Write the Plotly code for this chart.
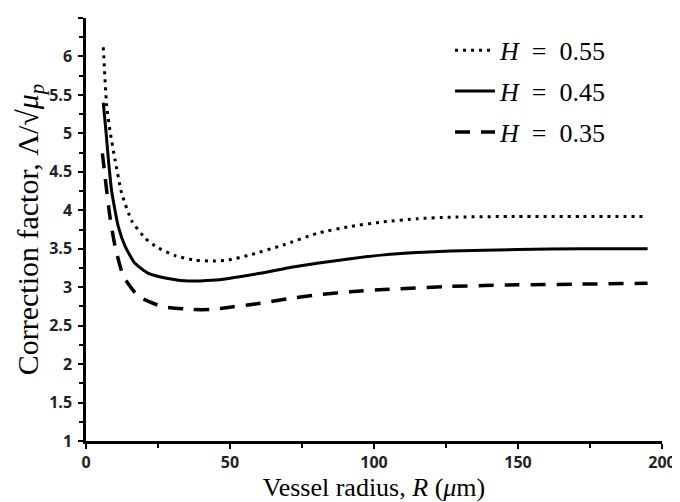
import plotly.graph_objects as go

# Vessel radius R (um) and correction factor
r_055 = [6.0, 7.2, 8.3, 10.1, 12.4, 15.9, 20.5, 24.6, 31, 37.9, 44.3, 49, 57, 68.6, 80.2,
         91.8, 103.4, 115, 126.6, 149.8, 172, 195]
h_055 = [6.12, 5.35, 5.04, 4.65, 4.22, 3.86, 3.64, 3.52, 3.41, 3.35, 3.34, 3.35, 3.42,
         3.55, 3.70, 3.79, 3.85, 3.89, 3.91, 3.92, 3.92, 3.92]

r_045 = [6.0, 7.0, 7.8, 8.9, 11.2, 13.6, 17.0, 21.7, 27.5, 35.6, 43.7, 49, 60.5, 70,
         80.2, 91.8, 103.4, 115, 126.6, 149.8, 172, 195]
h_045 = [5.40, 5.00, 4.65, 4.25, 3.79, 3.53, 3.31, 3.18, 3.12, 3.08, 3.09, 3.11, 3.18,
         3.25, 3.31, 3.37, 3.42, 3.45, 3.47, 3.49, 3.50, 3.50]

r_035 = [5.7, 6.6, 8.3, 10.1, 13, 18.2, 26.3, 36.8, 43.1, 50, 60.5, 70, 80.2, 91.8,
         103.4, 126.6, 149.8, 172, 195]
h_035 = [4.74, 4.44, 3.92, 3.53, 3.14, 2.88, 2.75, 2.71, 2.71, 2.74, 2.79, 2.85, 2.90,
         2.94, 2.97, 3.01, 3.03, 3.04, 3.05]

x_ticks = [0, 50, 100, 150, 200]
y_ticks = [1, 1.5, 2, 2.5, 3, 3.5, 4, 4.5, 5, 5.5, 6, 6.5]

series = [
    ("<i>H</i>\u2002=\u20020.55", r_055, h_055, dict(width=3, dash="3px,5px")),
    ("<i>H</i>\u2002=\u20020.45", r_045, h_045, dict(width=3)),
    ("<i>H</i>\u2002=\u20020.35", r_035, h_035, dict(width=3.5, dash="15px,11px")),
]

fig = go.Figure()
for i, (name, x, y, line) in enumerate(series):
    fig.add_trace(go.Scatter(
        x=x, y=y, mode="lines", name=name,
        line=dict(color="black", shape="spline", smoothing=0.5, **line),
        legendgroup=str(i),
    ))

tick_font = dict(family="Open Sans", size=16, color="#222222")
serif = "Liberation Serif"

# the page body adds an 8px offset, so the figure is 8px smaller on each side
fig.update_layout(
    width=672, height=494,
    margin=dict(l=78, r=18, t=10, b=61, autoexpand=False),
    plot_bgcolor="white",
    paper_bgcolor="white",
    showlegend=True,
    legend=dict(
        x=0.632, y=0.979, xanchor="left", yanchor="top",
        font=dict(family=serif, size=26, color="black"),
        tracegroupgap=4, itemwidth=40,
        bgcolor="rgba(0,0,0,0)",
    ),
)
fig.update_xaxes(
    range=[0, 200], tickvals=x_ticks, ticktext=[f"<b>{v}</b>" for v in x_ticks],
    automargin=False,
    showline=True, linecolor="black", linewidth=2.5,
    ticks="outside", ticklen=5, tickwidth=2, tickcolor="black",
    minor=dict(dtick=25, ticks="outside", ticklen=4, tickwidth=2, tickcolor="black"),
    showgrid=False, zeroline=False, tickfont=tick_font,
    title=dict(text="Vessel radius, <i>R</i> (<i>μ</i>m)",
               font=dict(family=serif, size=26, color="black"), standoff=3),
)
fig.update_yaxes(
    range=[1, 6.5], automargin=False,
    tickvals=y_ticks, ticktext=[f"<b>{v:g}</b>" for v in y_ticks],
    showline=True, linecolor="black", linewidth=2.5,
    ticks="outside", ticklen=5, tickwidth=2, tickcolor="black",
    ticklabelstandoff=3,
    minor=dict(dtick=0.25, ticks="outside", ticklen=4, tickwidth=2, tickcolor="black"),
    showgrid=False, zeroline=False, tickfont=tick_font,
    title=dict(text="Correction factor, Λ/√<i>μ<sub>p</sub></i>",
               font=dict(family=serif, size=30, color="black"), standoff=2),
)

fig.write_html("out.html")
